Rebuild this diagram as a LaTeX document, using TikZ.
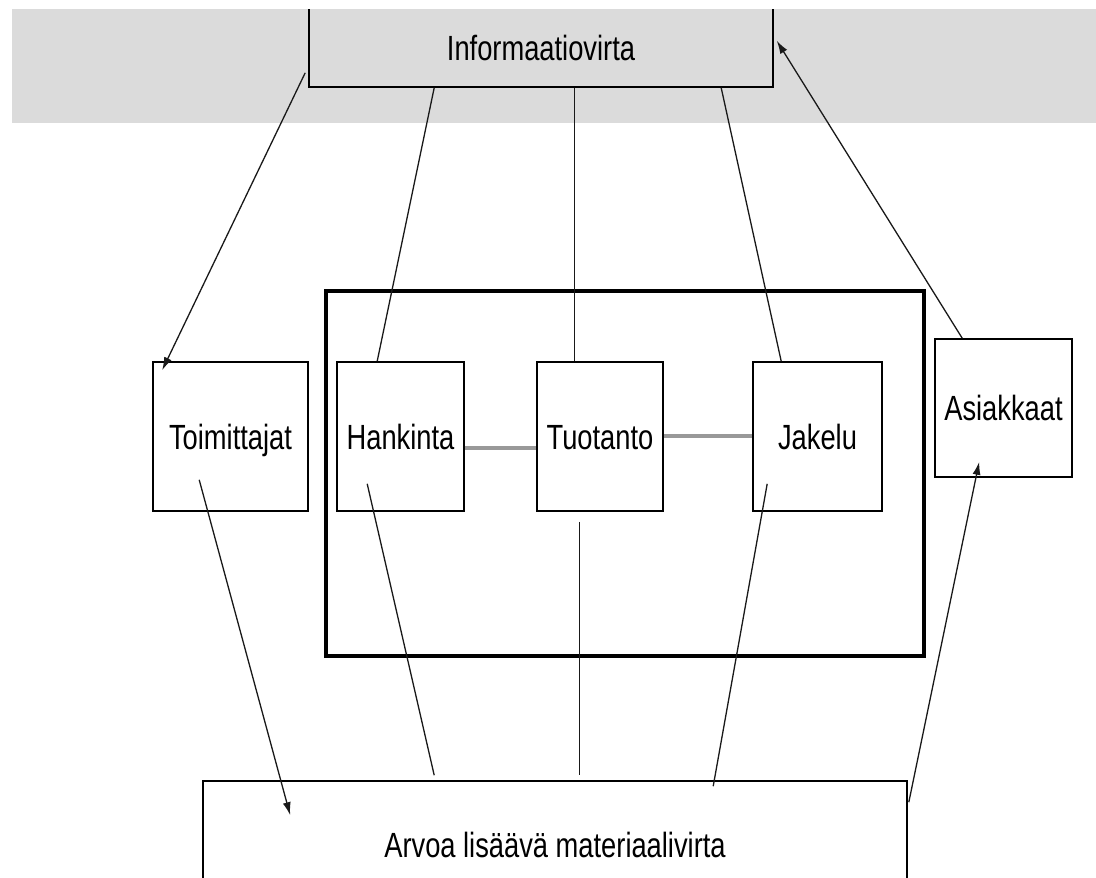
\documentclass[tikz,border=0pt]{standalone}
\usepackage{fontspec}
\setmainfont{Liberation Sans}[FakeStretch=0.78]
\usetikzlibrary{calc,arrows.meta}
\definecolor{band}{gray}{0.86}
\definecolor{glinkc}{gray}{0.6}
\begin{document}
\begin{tikzpicture}[x=1pt,y=-1pt,
  box/.style={draw=black,line width=1.6pt,inner sep=0pt,text height=25pt,text depth=0pt,font=\fontsize{35}{40}\selectfont},
  link/.style={draw=black!90,line width=1.3pt},
  flow/.style={link,-{Latex[length=13pt,width=8pt]}},
  glink/.style={draw=glinkc,line width=3.4pt}]
\useasboundingbox (0,0) rectangle (1096,878);
\begin{scope}
\clip (0,9) rectangle (1096,878);
\fill[band] (12,9) rectangle (1096,123);
\node[box,fill=band,minimum width=464pt,minimum height=79pt] (info) at (541,47.5) {Informaatiovirta};
\node[draw=black,line width=3.2pt,minimum width=598pt,minimum height=365pt,inner sep=0pt] (core) at (625,473.5) {};
\node[box,minimum width=155pt,minimum height=149pt] (toim) at (230.5,436.5) {Toimittajat};
\node[box,minimum width=127pt,minimum height=149pt] (hank) at (400.5,436.5) {Hankinta};
\node[box,minimum width=126pt,minimum height=149pt] (tuot) at (600,436.5) {Tuotanto};
\node[box,minimum width=129pt,minimum height=149pt] (jak) at (817.5,436.5) {Jakelu};
\node[box,minimum width=137pt,minimum height=138pt] (asia) at (1003.5,408) {Asiakkaat};
\node[box,minimum width=704pt,minimum height=128pt] (bot) at (555,845) {Arvoa lisäävä materiaalivirta};
% links between functions
\draw[glink] ($(hank.east)+(0,11.5)$) -- ($(tuot.west)+(0,11.5)$);
\draw[glink] ($(tuot.east)+(0,-0.5)$) -- ($(jak.west)+(0,-0.5)$);
% information links
\draw[link] ($(info.south west)+(126,0)$) -- ($(hank.north west)+(41,0)$);
\draw[link] ($(info.south west)+(266,0)$) -- ($(tuot.north west)+(38,0)$);
\draw[link] ($(info.south west)+(413,0)$) -- ($(jak.north west)+(29,0)$);
\coordinate (toimtip) at ($(toim.north west)+(10,9)$);
\draw[flow] ($(info.south west)+(-3,-15)$) -- (toimtip);
\coordinate (infotip) at ($(info.south east)+(3,-47)$);
\draw[flow] ($(asia.north west)+(28,0)$) -- (infotip);
% material links
\coordinate (hankout) at ($(hank.south west)+(31,-28)$);
\coordinate (tuotout) at ($(tuot.south west)+(43,10)$);
\coordinate (jakout) at ($(jak.south west)+(15,-28)$);
\coordinate (toimout) at ($(toim.south west)+(47,-32)$);
\draw[link] (hankout) -- ($(bot.north west)+(232,-5)$);
\draw[link] (tuotout) -- ($(bot.north west)+(377,-5)$);
\draw[link] (jakout) -- ($(bot.north west)+(511,6)$);
\coordinate (bottip) at ($(bot.north west)+(88,35)$);
\draw[flow] (toimout) -- (bottip);
\coordinate (asiatip) at ($(asia.south west)+(45,-16)$);
\draw[flow] ($(bot.north east)+(1,22)$) -- (asiatip);
\end{scope}
\end{tikzpicture}
\end{document}
